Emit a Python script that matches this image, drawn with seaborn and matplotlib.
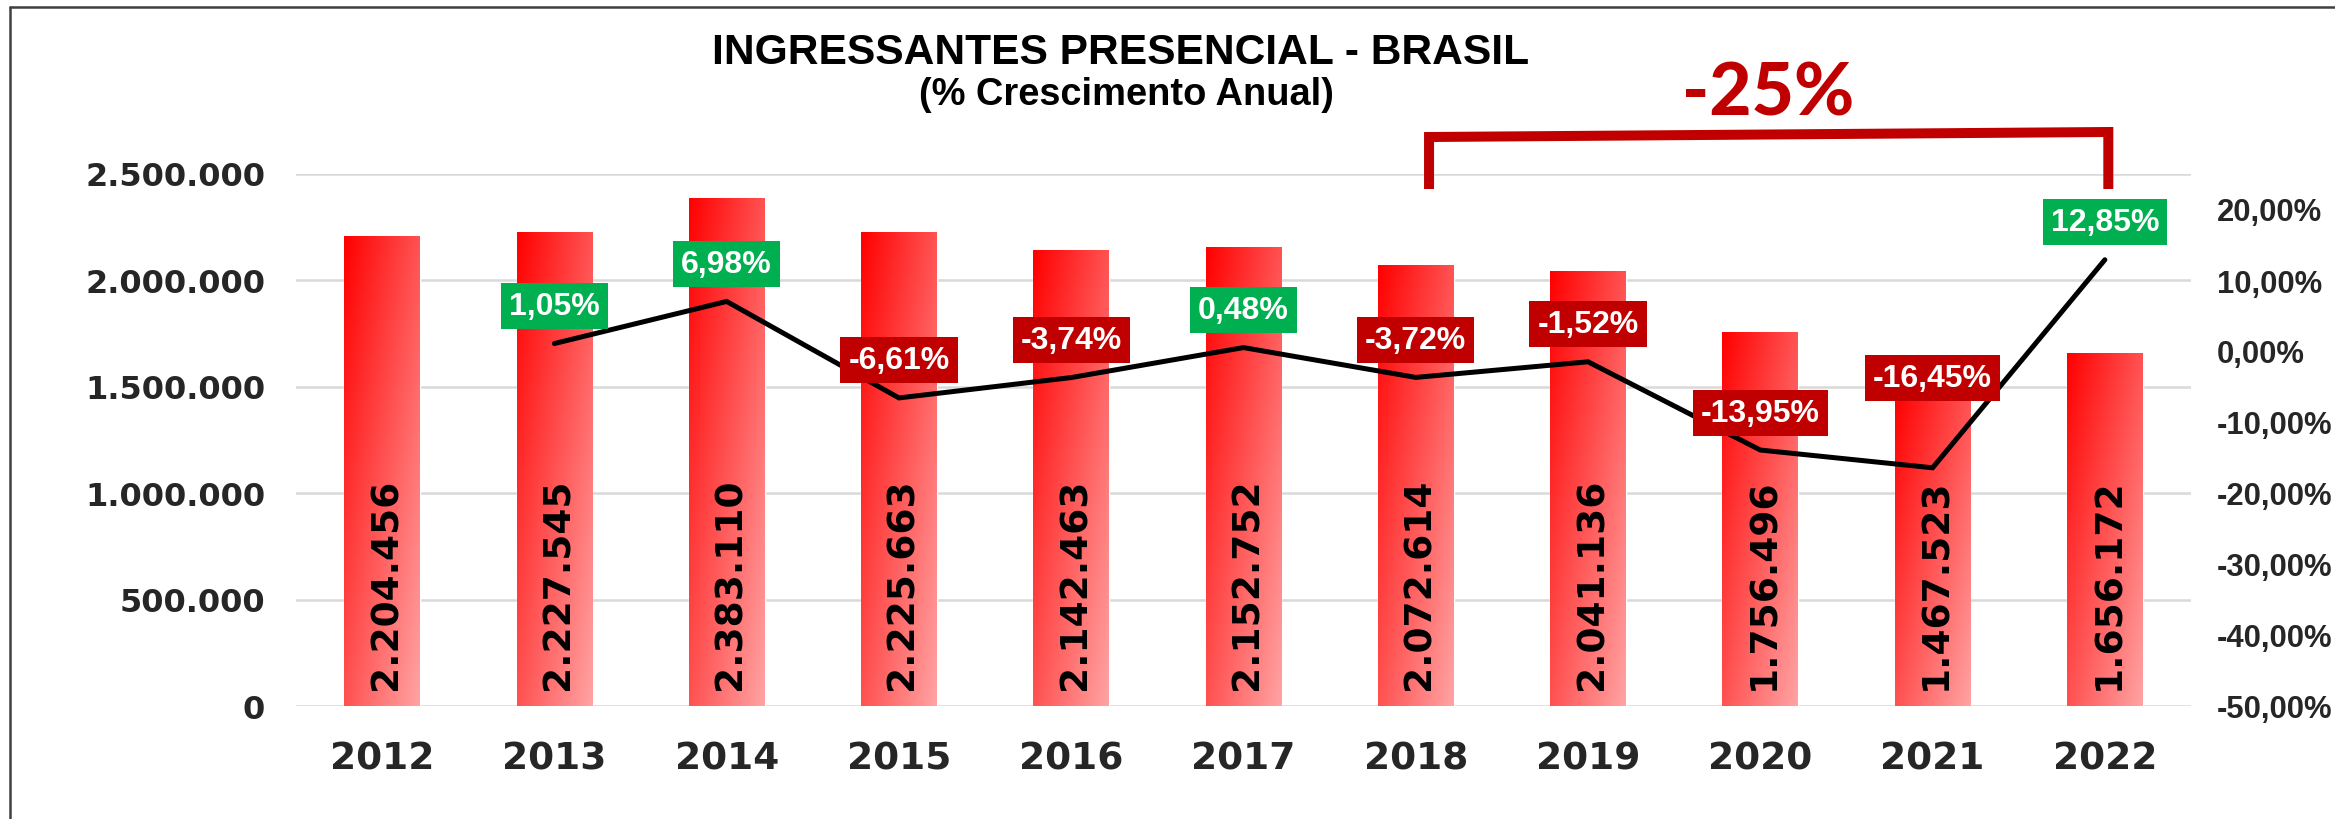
import numpy as np
import pandas as pd
import matplotlib
matplotlib.use("Agg")
import matplotlib.pyplot as plt
import matplotlib.font_manager as fm
from matplotlib.lines import Line2D
from matplotlib.ticker import FuncFormatter, FixedLocator
import seaborn as sns

# ---------------- data ----------------
years = ['2012', '2013', '2014', '2015', '2016', '2017', '2018', '2019', '2020', '2021', '2022']
ingressantes = [2204456, 2227545, 2383110, 2225663, 2142463, 2152752, 2072614, 2041136,
                1756496, 1467523, 1656172]
growth_years = ['2013', '2014', '2015', '2016', '2017', '2018', '2019', '2020', '2021', '2022']
growth_pct = [1.05, 6.98, -6.61, -3.74, 0.48, -3.72, -1.52, -13.95, -16.45, 12.85]
left_ticks = [0, 500000, 1000000, 1500000, 2000000, 2500000]
right_ticks = [-50, -40, -30, -20, -10, 0, 10, 20]
title = 'INGRESSANTES PRESENCIAL - BRASIL'
subtitle = '(% Crescimento Anual)'
highlight = '-25%'
bracket_from, bracket_to = '2018', '2022'

# ---------------- style ----------------
sns.set_theme(style='white')
plt.rcParams['font.family'] = ['DejaVu Sans']
DPI = 100
W, H = 2335, 820

def px(v):  # pixels -> points
    return v * 72.0 / DPI

verdana_bold = fm.FontProperties(family='DejaVu Sans', weight='bold')
arial_bold = fm.FontProperties(family='Liberation Sans', weight='bold')

# heavy font for the highlight (Arial Black look-alike if available)
heavy_font = None
for fam in ['Lato', 'Roboto', 'Inter', 'Open Sans', 'Noto Sans']:
    cands = [f for f in fm.fontManager.ttflist
             if f.name == fam and isinstance(f.weight, int) and f.weight >= 800
             and f.style == 'normal']
    if cands:
        cands.sort(key=lambda f: -f.weight)
        heavy_font = fm.FontProperties(fname=cands[0].fname)
        break
if heavy_font is None:
    heavy_font = arial_bold.copy()

value_font = fm.FontProperties(family='DejaVu Sans', weight='bold', size=px(37.5))

fig = plt.figure(figsize=(W / DPI, H / DPI), dpi=DPI, facecolor='white')
L, R, B, T = 296, 2191, 707, 174.5
ax = fig.add_axes([L / W, 1 - B / H, (R - L) / W, (B - T) / H])

df = pd.DataFrame({'ano': years, 'valor': ingressantes})
sns.barplot(data=df, x='ano', y='valor', ax=ax, color='#FF0000', width=0.44,
            saturation=1, zorder=2)
ax.set_xlim(-0.5, len(years) - 0.5)
ax.set_ylim(left_ticks[0], left_ticks[-1])

# gradient fill for bars
ny, nx = 200, 60
u = np.linspace(0, 1, nx)[None, :]
v = np.linspace(0, 1, ny)[:, None]
mix = 0.64 * (0.5 * u + 0.5 * v)
img = np.ones((ny, nx, 3))
img[..., 1] = mix
img[..., 2] = mix
for p in ax.patches:
    x0, y0 = p.get_x(), p.get_y()
    w, h = p.get_width(), p.get_height()
    im = ax.imshow(img, extent=(x0, x0 + w, y0, y0 + h), origin='upper',
                   aspect='auto', zorder=2.1, interpolation='bilinear')
    im.set_clip_path(p)
ax.set_xlim(-0.5, len(years) - 0.5)
ax.set_ylim(left_ticks[0], left_ticks[-1])
ax.set_aspect('auto')

# bar value labels (inside base, rotated)
for i, val in enumerate(ingressantes):
    ax.annotate(f"{val:,}".replace(',', '.'), xy=(i, 0), xytext=(4, 17),
                textcoords='offset pixels', rotation=90, ha='center', va='bottom',
                fontproperties=value_font, color='black', zorder=4)

# axes styling
ax.yaxis.set_major_locator(FixedLocator(left_ticks))
ax.yaxis.set_major_formatter(FuncFormatter(lambda x, _: f"{int(round(x)):,}".replace(',', '.')))
ax.grid(axis='y', color='#D9D9D9', linewidth=px(2.5))
ax.grid(axis='x', visible=False)
ax.set_axisbelow(True)
for s in ax.spines.values():
    s.set_visible(False)
ax.set_xlabel('')
ax.set_ylabel('')
ax.tick_params(axis='y', length=0, pad=px(31))
ax.tick_params(axis='x', length=0, pad=px(35))
for lab in ax.get_yticklabels():
    lab.set_fontproperties(verdana_bold)
    lab.set_fontsize(px(32))
for lab in ax.get_xticklabels():
    lab.set_fontproperties(verdana_bold)
    lab.set_fontsize(px(37.5))

# secondary axis: growth line
ax2 = ax.twinx()
gx = [years.index(y) for y in growth_years]
gdf = pd.DataFrame({'x': gx, 'g': growth_pct})
sns.lineplot(data=gdf, x='x', y='g', ax=ax2, color='black', linewidth=px(5),
             legend=False, solid_capstyle='round', solid_joinstyle='miter', zorder=3)
ax2.set_ylim(-50, 25)
ax2.set_xlim(-0.5, len(years) - 0.5)
ax2.yaxis.set_major_locator(FixedLocator(right_ticks))
ax2.yaxis.set_major_formatter(FuncFormatter(lambda x, _: f"{x:.2f}%".replace('.', ',')))
ax2.tick_params(axis='y', length=0, pad=px(26))
ax2.grid(False)
ax2.set_xlabel('')
ax2.set_ylabel('')
for s in ax2.spines.values():
    s.set_visible(False)
for lab in ax2.get_yticklabels():
    lab.set_fontproperties(arial_bold)
    lab.set_fontsize(px(31))

# percentage labels
special_offset = {'2021': 90}
for xi, yr, g in zip(gx, growth_years, growth_pct):
    off = special_offset.get(yr, 37.5)
    col = '#00B050' if g >= 0 else '#C00000'
    ax2.annotate(f"{g:.2f}%".replace('.', ','), xy=(xi, g), xytext=(0, off),
                 textcoords='offset pixels', ha='center', va='center',
                 fontproperties=arial_bold, fontsize=px(32), color='white', zorder=6,
                 bbox=dict(boxstyle='square,pad=0.25', facecolor=col, edgecolor='none'))

# bracket
tr = ax.get_xaxis_transform()
bx0 = years.index(bracket_from) + 0.077
bx1 = years.index(bracket_to) + 0.02
axh = B - T
yb = (B - 190) / axh
ytl = (B - 138) / axh
ytr = (B - 133) / axh
ax.add_line(Line2D([bx0, bx0, bx1, bx1], [yb, ytl, ytr, yb], transform=tr, color='#C00000',
                   linewidth=px(10), solid_joinstyle='miter', solid_capstyle='butt',
                   clip_on=False, zorder=5))

# titles
fig.text(1121 / W, 1 - 53 / H, title, ha='center', va='center',
         fontproperties=arial_bold, fontsize=px(42.5), color='black')
fig.text(1126 / W, 1 - 95 / H, subtitle, ha='center', va='center',
         fontproperties=arial_bold, fontsize=px(38), color='black')
fig.text(1768 / W, 1 - 95 / H, highlight, ha='center', va='center',
         fontproperties=heavy_font, fontsize=px(73), color='#C00000')

# outer border (top and left visible)
bx = 10 / W
by = 1 - 8 / H
fig.add_artist(Line2D([bx, 1.0], [by, by], transform=fig.transFigure, color='#404040',
                      linewidth=px(2.5)))
fig.add_artist(Line2D([bx, bx], [0, by], transform=fig.transFigure, color='#404040',
                      linewidth=px(2.5)))

fig.savefig('out.png', dpi=DPI, facecolor='white')
